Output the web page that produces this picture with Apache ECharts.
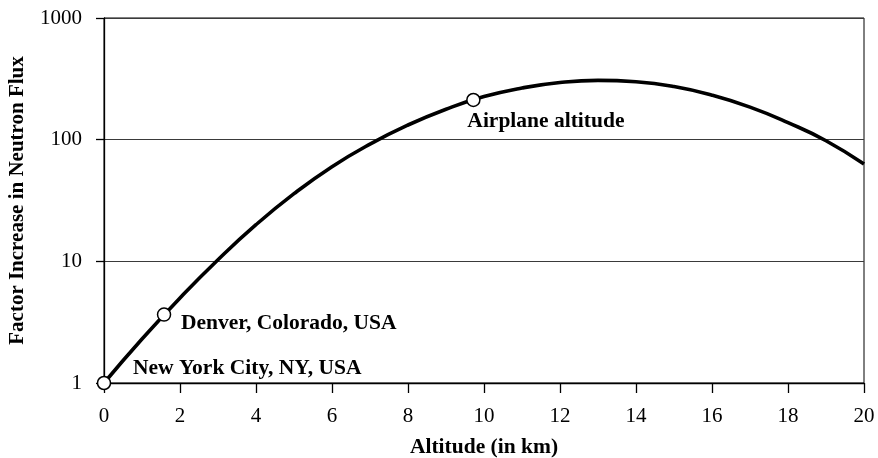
<!DOCTYPE html>
<html>
<head>
<meta charset="utf-8">
<script src="https://cdn.jsdelivr.net/npm/echarts@6/dist/echarts.min.js"></script>
<style>
  html, body { margin: 0; padding: 0; background: #fff; }
  #chart { width: 878px; height: 458px; }
</style>
</head>
<body>
<div id="chart"></div>
<script>
// Neutron flux factor vs. altitude (km), sampled along the curve
const altitudes = [0, 1, 2, 3, 4, 5, 6, 7, 8, 9, 10, 11, 12, 13, 14, 15, 16, 17, 18, 19, 20];
const factors   = [1, 2.3, 5.0, 10.3, 20, 36, 60, 92, 132, 178, 226, 266, 295, 307, 299, 273, 232, 185, 138, 98, 63];

// Marked locations on the curve
const placeNames     = ['New York City, NY, USA', 'Denver, Colorado, USA', 'Airplane altitude'];
const placeAltitudes = [0, 1.58, 9.72];
const placeFactors   = [1, 3.65, 212];
const placeLabelOffsets = [[29, -15], [17, 9], [-6, 21]];

const yTickValues = [1, 10, 100, 1000];

const FONT = "'Liberation Serif', 'Times New Roman', serif";

const curve = altitudes.map((a, i) => [a, factors[i]]);

const places = placeNames.map((name, i) => ({
  name: name,
  value: [placeAltitudes[i], placeFactors[i]],
  label: { offset: placeLabelOffsets[i] }
}));

const chart = echarts.init(document.getElementById('chart'), null, { renderer: 'canvas' });
chart.setOption({
  animation: false,
  backgroundColor: '#fff',
  grid: {
    left: 104, right: 14, top: 18, bottom: 75,
    containLabel: false,
    outerBoundsMode: 'none',
    show: true, borderColor: '#000', borderWidth: 1, backgroundColor: 'transparent'
  },
  xAxis: {
    type: 'value', min: 0, max: 20, interval: 2,
    name: 'Altitude (in km)', nameLocation: 'middle', nameGap: 53,
    nameTextStyle: { fontFamily: FONT, fontWeight: 'bold', fontSize: 21.5, color: '#000' },
    axisLine: { show: true, onZero: false, lineStyle: { color: '#000', width: 1.3 } },
    axisTick: { show: true, inside: false, length: 10, lineStyle: { color: '#000', width: 1.3 } },
    axisLabel: { fontFamily: FONT, fontSize: 21, color: '#000', margin: 23 },
    splitLine: { show: false }
  },
  yAxis: {
    type: 'log', logBase: 10, min: 1, max: 1000,
    name: 'Factor Increase in Neutron Flux', nameLocation: 'middle', nameGap: 76, nameRotate: 90,
    nameTextStyle: { fontFamily: FONT, fontWeight: 'bold', fontSize: 21, color: '#000' },
    axisLine: { show: true, lineStyle: { color: '#000', width: 1.3 } },
    axisTick: { show: true, inside: false, length: 8, lineStyle: { color: '#000', width: 1.3 } },
    axisLabel: {
      fontFamily: FONT, fontSize: 21, color: '#000', margin: 22,
      formatter: v => {
        const hit = yTickValues.find(t => Math.abs(t - v) / t < 1e-6);
        return hit !== undefined ? String(hit) : '';
      }
    },
    splitLine: { show: true, lineStyle: { color: '#3a3a3a', width: 1.2 } }
  },
  series: [
    {
      type: 'line',
      data: curve,
      smooth: 0.5,
      showSymbol: false,
      lineStyle: { color: '#000', width: 3.6 },
      z: 3
    },
    {
      type: 'scatter',
      data: places,
      symbol: 'circle',
      symbolSize: 13,
      itemStyle: { color: '#fff', borderColor: '#000', borderWidth: 1.5, opacity: 1 },
      label: {
        show: true,
        position: 'inside',
        align: 'left',
        verticalAlign: 'middle',
        formatter: p => p.name,
        fontFamily: FONT, fontWeight: 'bold', fontSize: 21.5, color: '#000', opacity: 1
      },
      z: 5
    }
  ]
});
</script>
</body>
</html>
